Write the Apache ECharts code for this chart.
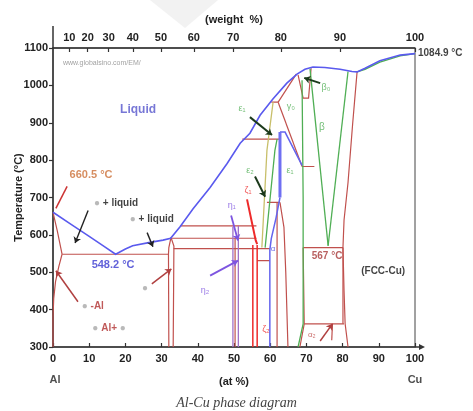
<!DOCTYPE html>
<html><head><meta charset="utf-8">
<script src="https://cdn.jsdelivr.net/npm/echarts@6/dist/echarts.min.js"></script>
<style>html,body{margin:0;padding:0;background:#fff}#c{width:473px;height:411px}</style>
</head><body><div id="c"></div>
<script>
// ---------------- data (at% Cu, temperature °C) ----------------
const weightTicks = [10,20,30,40,50,60,70,80,90,100];
const liquidus = [[0,660.5],[5,628],[10,596],[14,570],[17.3,548.2],[20,562],[22,571],[26.8,580],[30.4,586],[32.5,591],[35.1,622],[38.7,670],[43.4,727],[48.1,791],[51.7,845],[54.4,872],[57.2,920],[60.8,964],[64.6,1006],[67.4,1030],[69.6,1043],[71.8,1049],[75.1,1048],[79.3,1043],[82.6,1037],[84,1036],[86.2,1046],[90.3,1066],[95.9,1081],[100,1084.9]];
const cuSolidus = [[84,1036],[86.2,1043],[90.3,1062],[95.9,1079],[100,1084.9]];
const alSolidus = [[0,660.5],[1.2,610],[2.5,548.2]];
const alSolvus = [[2.5,548.2],[1.6,515],[0.7,475],[0.2,430],[0,380],[0,300]];
const eutectic = [[2.5,548.2],[31.9,548.2]];
const thetaLeft = [[32.6,593],[32.0,566],[31.9,548.2],[32.0,300]];
const thetaRight = [[32.6,593],[33.4,570],[33.2,300]];
const iso624 = [[35.1,624],[56.2,624]];
const iso591 = [[32.6,591],[56.2,591]];
const iso563 = [[33.3,563],[59.9,563]];
const iso531 = [[56.4,531],[59.9,531]];
const etaMid = [[50.3,591],[50.3,300]];
const eps2Right = [[61.9,687],[61.9,300]];
const iso687 = [[59.1,687],[62.7,687]];
const deltaRight = [[62.7,687],[63.8,620],[64.3,500],[64.9,300]];
const iso856 = [[52.3,856],[62.7,856]];
const iso955 = [[60.3,955],[62.2,955]];
const gammaUpper = [[62.2,955],[67.2,1030]];
const gammaLower = [[62.2,955],[68.8,783]];
const iso783 = [[68.8,783],[72.2,783]];
const gammaTop = [[67.7,1028],[69.1,966],[70.6,966],[71.3,1046]];
const iso567 = [[69.1,566],[80.1,566]];
const iso362 = [[69.4,362],[80.4,362]];
const alpha2Left = [[69.1,566],[69.4,362],[68.2,300]];
const alpha2Right = [[80.1,566],[80.1,362]];
const alpha2Mid = [[77.2,362],[77.0,318]];
const cuSolvus = [[84,1036],[82.8,900],[81.5,740],[80.4,640],[80.1,566],[80.4,450],[80.7,362],[81.5,300]];
const zeta2Left = [[55.2,573],[55.2,300]];
const zeta2Right = [[56.4,573],[56.4,300]];
const zeta1 = [[53.6,695],[54.8,640],[56,585],[56.4,575]];
const etaLeft = [[49.7,622],[49.7,300]];
const etaRight = [[51.2,624],[51.2,300]];
const eps1Bar = [[62.7,875],[62.7,700]];
const eps1Path = [[62.7,700],[61.6,645],[60.3,590],[59.9,560],[59.9,300]];
const eps1Roof = [[62.7,875],[64.1,875],[68.8,786]];
const gammaVert = [[68.8,1014],[69.1,700],[69.1,362],[67.7,300]];
const betaLeft = [[71,1044],[76,571]];
const betaRight = [[81.5,1037],[76,571]];
const eps2Green = [[61.9,856],[61.3,826],[58.6,566]];
const eps2Olive = [[60.8,955],[59.1,826],[57.7,566]];
// arrows: [from, to]
const blackArrows = [[[9.7,665],[6.1,578]],[[26,606],[27.6,568]]];
const blackArrowsBold = [[[54.4,915],[60.5,867]],[[55.8,756],[58.6,702]],[[73.8,1006],[69.4,1020]]];
const redArrows = [[[6.9,421],[0.8,504]],[[27.3,469],[32.7,509]],[[73.8,316],[77.2,362]]];
const meltLine = [[3.9,730],[0.8,671]];
const purpleArrows = [[[49.2,652],[51.1,585]],[[43.4,491],[51.1,531]]];

// ---------------- annotations ----------------
const C_RED='#c0504d', C_GREEN='#4fae54', C_BLUE='#5a5aee', C_PURPLE='#7d55e0', C_BRED='#ee2a2a';
const annotations = [
  [23.5,934,'Liquid','#5555cc',12,'bold','inside'],
  [1.9,1060,'www.globalsino.com/EM/','#8a8a8a',7,'normal','right'],
  [10.5,759,'660.5 °C','#cc7038',11,'bold','inside'],
  [17.4,684,'{d|●} + liquid','#111',10,'bold','inside'],
  [27.3,641,'{d|●} + liquid','#111',10,'bold','inside'],
  [16.6,520,'548.2 °C','#3a3ad0',11,'bold','inside'],
  [11.0,410,'{d|●} -Al','#b03030',10,'bold','inside'],
  [15.5,351,'{d|●} Al+ {d|●}','#b03030',10,'bold','inside'],
  [25.4,458,'{d|●}','#b03030',10,'bold','inside'],
  [49.4,679,'η₁','#7d55e0',9,'normal','inside'],
  [42.0,450,'η₂','#7d55e0',9,'normal','inside'],
  [52.2,939,'ε₁',C_GREEN,9,'normal','inside'],
  [54.4,773,'ε₂',C_GREEN,9,'normal','inside'],
  [53.9,719,'ζ₁',C_BRED,9,'normal','inside'],
  [58.8,348,'ζ₂',C_BRED,9,'normal','inside'],
  [65.7,944,'γ₀',C_GREEN,9,'normal','inside'],
  [75.4,995,'β₀',C_GREEN,9,'normal','inside'],
  [74.3,888,'β',C_GREEN,10,'normal','inside'],
  [65.5,773,'ε₁',C_GREEN,9,'normal','inside'],
  [60.8,563,'α','#4a4ae0',8,'normal','inside'],
  [75.7,542,'567 °C','#a83838',10,'bold','inside'],
  [91.2,504,'(FCC-Cu)','#111',10,'bold','inside'],
  [71.5,332,'α₂',C_RED,8,'normal','inside'],
  [100,1084.9,'1084.9 °C','#111',10,'bold','right']
];

// weight% -> at% position for the top axis ticks
const M_CU = 63.546, M_AL = 26.98;
const weightTickAt = weightTicks.map(w => w >= 100 ? 100 : 100*(w/M_CU)/((w/M_CU)+((100-w)/M_AL)));

function polys(list, color, width, z) {
  return {type:'lines', coordinateSystem:'cartesian2d', polyline:true, silent:true, z:z||3,
    lineStyle:{color:color, width:width, opacity:1}, data:list.map(p=>({coords:p}))};
}
function arrows(list, color, width) {
  return {type:'lines', coordinateSystem:'cartesian2d', silent:true, z:6,
    symbol:['none','arrow'], symbolSize:6,
    lineStyle:{color:color, width:width, opacity:1, curveness:0}, data:list.map(p=>({coords:p}))};
}

const chart = echarts.init(document.getElementById('c'));
const axisCol = '#333';
const option = {
  animation:false,
  backgroundColor:'#fff',
  title:{text:'Al-Cu phase diagram', left:'center', top:391,
    textStyle:{fontFamily:'Liberation Serif', fontStyle:'italic', fontWeight:'normal', fontSize:14, color:'#444'}},
  grid:{left:53, right:58, top:48, bottom:64, outerBoundsMode:'none', containLabel:false, show:true, borderColor:'#444', borderWidth:1},
  xAxis:[
    {type:'value', min:0, max:100, interval:10, position:'bottom',
     axisLine:{show:true, lineStyle:{color:axisCol, width:1.5}},
     axisTick:{inside:true, length:4, lineStyle:{color:axisCol, width:1.2}},
     axisLabel:{color:'#222', fontSize:11, fontWeight:'bold', margin:6, fontFamily:'Liberation Sans'},
     splitLine:{show:false},
     name:'(at %)', nameLocation:'middle', nameGap:29, nameMoveOverlap:false,
     nameTextStyle:{color:'#222', fontSize:11, fontWeight:'bold', fontFamily:'Liberation Sans'}},
    {type:'value', min:0, max:100, position:'top',
     axisLine:{show:true, lineStyle:{color:axisCol, width:1.5}},
     axisTick:{show:true, inside:true, length:4, customValues:weightTickAt, lineStyle:{color:axisCol, width:1.2}},
     axisLabel:{show:true, customValues:weightTickAt, color:'#222', fontSize:11, fontWeight:'bold', margin:5, fontFamily:'Liberation Sans',
       formatter:function(v){ let i = weightTickAt.findIndex(a=>Math.abs(a-v)<1e-6); return i>=0 ? String(weightTicks[i]) : ''; }},
     splitLine:{show:false},
     name:'(weight  %)', nameLocation:'middle', nameGap:23, nameMoveOverlap:false,
     nameTextStyle:{color:'#222', fontSize:11, fontWeight:'bold', fontFamily:'Liberation Sans'}}
  ],
  yAxis:{type:'value', min:300, max:1100, interval:100,
    axisLine:{show:true, lineStyle:{color:axisCol, width:1.5}},
    axisTick:{show:true, length:4, lineStyle:{color:axisCol, width:1.2}},
    axisLabel:{color:'#222', fontSize:11, fontWeight:'bold', margin:5, fontFamily:'Liberation Sans', formatter:function(v){return String(v);}},
    splitLine:{show:false},
    name:'Temperature (°C)', nameLocation:'middle', nameGap:29, nameRotate:90, nameMoveOverlap:false,
    nameTextStyle:{color:'#222', fontSize:11, fontWeight:'bold', fontFamily:'Liberation Sans'}},
  series:[
    polys([alSolidus, alSolvus, eutectic, thetaLeft, thetaRight, iso624, iso591, iso563, iso531, etaMid,
           eps2Right, iso687, deltaRight, iso856, iso955, gammaUpper, gammaLower, iso783, gammaTop,
           iso567, iso362, alpha2Left, alpha2Right, alpha2Mid, cuSolvus], C_RED, 1.2, 3),
    polys([etaLeft, etaRight], '#a070c8', 1.3, 3),
    polys([zeta2Left, zeta2Right], C_BRED, 1.5, 4),
    polys([zeta1], C_BRED, 2, 4),
    polys([gammaVert, betaLeft, betaRight, eps2Green, cuSolidus], C_GREEN, 1.3, 4),
    polys([eps2Olive], '#c8bf6a', 1.3, 4),
    polys([eps1Path, eps1Roof], '#6464ee', 1.5, 5),
    polys([eps1Bar], '#6f6ff2', 3, 5),
    polys([liquidus], C_BLUE, 1.6, 5),
    arrows(blackArrows, '#222', 1.4),
    arrows(blackArrowsBold, '#1c3a1c', 2),
    arrows(redArrows, '#b04040', 1.5),
    polys([meltLine], '#cc3333', 1.5, 6),
    arrows(purpleArrows, C_PURPLE, 1.8),
    {type:'scatter', symbolSize:0, silent:true, z:10, clip:false,
     data:annotations.map(a=>({value:[a[0],a[1]], label:{show:true, position:a[6], distance:3, formatter:a[2],
       color:a[3], fontSize:a[4], fontWeight:a[5], fontFamily:'Liberation Sans',
       rich:{d:{color:'#a8a8a8', fontSize:10}}}}))},
    {type:'scatter', symbolSize:0, silent:true, z:10, clip:false,
     data:[{value:[0,300], label:{show:true, formatter:'Al', offset:[2,33]}},
           {value:[100,300], label:{show:true, formatter:'Cu', offset:[0,33]}}],
     label:{position:'inside', color:'#222', fontSize:11, fontWeight:'bold', fontFamily:'Liberation Sans'}}
  ]
};
chart.setOption(option);
const p0 = chart.convertToPixel({gridIndex:0}, [0,1100]);
const p1 = chart.convertToPixel({gridIndex:0}, [100,300]);
chart.setOption({graphic:[
  {type:'polygon', z:-10, silent:true, shape:{points:[[150,0],[218,0],[185,28]]}, style:{fill:'#f2f2f2'}},
  {type:'line', shape:{x1:p0[0], y1:p0[1], x2:p0[0], y2:p0[1]-22}, style:{stroke:axisCol, lineWidth:1.5}},
  {type:'line', shape:{x1:p1[0], y1:p1[1], x2:p1[0]+6, y2:p1[1]}, style:{stroke:axisCol, lineWidth:1.5}},
  {type:'polygon', shape:{points:[[p1[0]+10,p1[1]],[p1[0]+4,p1[1]-3],[p1[0]+4,p1[1]+3]]}, style:{fill:axisCol}}
]});
</script>
</body></html>
